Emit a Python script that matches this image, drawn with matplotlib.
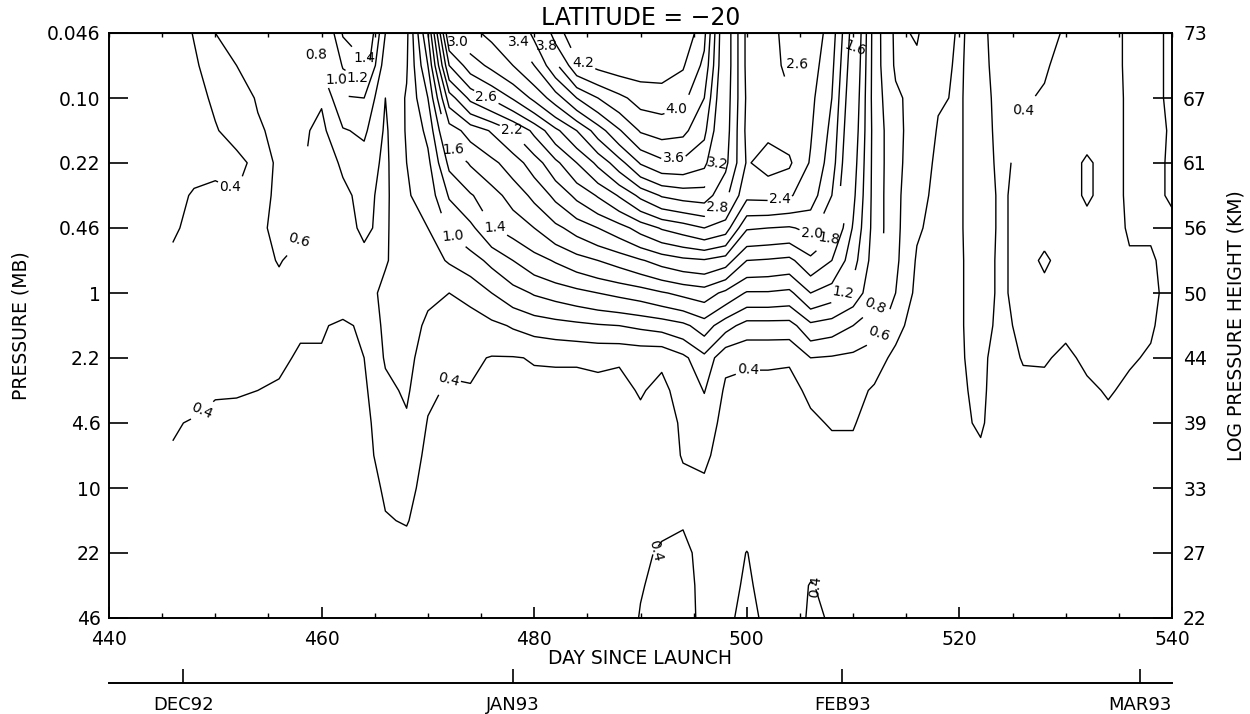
import numpy as np
import matplotlib
matplotlib.use("Agg")
import matplotlib.pyplot as plt

plt.rcParams["font.family"] = ["DejaVu Sans"]

# grid: every second day, UARS pressure levels (0.046 mb first)
DAYS = np.arange(446, 541, 2)
PRESSURE = [0.0464, 0.0681, 0.1, 0.147, 0.215, 0.316, 0.464, 0.681, 1.0, 1.47,
            2.15, 3.16, 4.64, 6.81, 10.0, 14.7, 21.5, 31.6, 46.4]

# amplitude: one vertical profile per day (top -> bottom)
PROFILES = [
    [.30, .31, .33, .34, .35, .37, .38, .43, .44, .44, .43, .42, .41, .39, .38, .36, .34, .32, .31],  # 446
    [.41, .37, .36, .37, .37, .41, .44, .48, .50, .48, .46, .44, .39, .36, .34, .33, .31, .30, .30],  # 448
    [.60, .50, .42, .39, .38, .42, .48, .52, .52, .48, .45, .41, .37, .34, .33, .32, .31, .30, .30],  # 450
    [.72, .60, .50, .45, .36, .41, .50, .53, .52, .47, .44, .41, .36, .33, .32, .31, .30, .30, .30],  # 452
    [.72, .68, .62, .57, .44, .50, .56, .55, .52, .46, .43, .40, .36, .33, .32, .31, .30, .30, .30],  # 454
    [.70, .68, .70, .66, .66, .66, .65, .61, .55, .46, .43, .38, .35, .33, .32, .31, .30, .30, .30],  # 456
    [.75, .72, .70, .64, .62, .62, .62, .55, .50, .42, .38, .35, .33, .32, .31, .30, .30, .30, .30],  # 458
    [.90, .80, .62, .55, .53, .53, .54, .52, .48, .41, .39, .35, .33, .32, .31, .30, .30, .30, .30],  # 460
    [1.42, 1.22, .98, .78, .62, .57, .56, .55, .47, .38, .36, .34, .33, .32, .31, .30, .30, .30, .30],  # 462
    [1.52, 1.36, 1.00, .84, .70, .64, .62, .57, .50, .42, .40, .37, .35, .35, .33, .32, .30, .30, .30],  # 464
    [.80, .68, .60, .57, .56, .56, .57, .58, .66, .65, .62, .55, .50, .46, .42, .39, .33, .31, .30],  # 466
    [.75, .78, .82, .82, .80, .78, .75, .72, .72, .70, .68, .63, .57, .50, .45, .41, .34, .31, .30],  # 468
    [1.60, 1.40, 1.20, 1.05, .95, .88, .80, .72, .64, .56, .47, .43, .39, .36, .34, .32, .31, .30, .30],  # 470
    [3.00, 2.60, 2.10, 1.70, 1.45, 1.22, 1.02, .82, .60, .50, .43, .38, .35, .33, .32, .31, .30, .30, .30],  # 472
    [3.15, 2.90, 2.45, 1.88, 1.62, 1.38, 1.15, .92, .65, .52, .43, .39, .35, .33, .32, .31, .30, .30, .30],  # 474
    [3.25, 3.05, 2.62, 2.02, 1.75, 1.52, 1.38, 1.05, .80, .55, .39, .36, .34, .33, .32, .31, .30, .30, .30],  # 476
    [3.38, 3.20, 2.82, 2.20, 1.90, 1.68, 1.48, 1.20, .92, .62, .39, .36, .34, .33, .32, .31, .30, .30, .30],  # 478
    [3.65, 3.40, 3.05, 2.45, 2.10, 1.85, 1.60, 1.32, 1.02, .68, .41, .36, .34, .33, .32, .31, .30, .30, .30],  # 480
    [4.10, 3.75, 3.30, 2.75, 2.35, 2.05, 1.75, 1.42, 1.08, .72, .41, .37, .34, .33, .32, .31, .30, .30, .30],  # 482
    [4.35, 4.15, 3.60, 3.00, 2.60, 2.25, 1.88, 1.52, 1.14, .75, .41, .37, .34, .33, .32, .31, .30, .30, .30],  # 484
    [4.42, 4.25, 3.80, 3.30, 2.85, 2.42, 2.00, 1.60, 1.20, .78, .42, .37, .34, .33, .32, .31, .30, .30, .30],  # 486
    [4.48, 4.30, 3.95, 3.58, 3.12, 2.62, 2.12, 1.68, 1.25, .80, .41, .37, .34, .33, .32, .31, .30, .30, .30],  # 488
    [4.50, 4.30, 4.08, 3.82, 3.42, 2.85, 2.28, 1.78, 1.30, .84, .43, .41, .37, .34, .33, .33, .37, .39, .41],  # 490
    [4.48, 4.30, 4.10, 3.88, 3.55, 3.02, 2.42, 1.88, 1.38, .88, .42, .37, .34, .33, .33, .37, .42, .44, .45],  # 492
    [4.38, 4.22, 4.05, 3.85, 3.55, 3.08, 2.50, 1.95, 1.45, .95, .55, .45, .42, .41, .36, .39, .43, .45, .46],  # 494
    [4.05, 3.95, 3.80, 3.65, 3.45, 3.10, 2.60, 1.98, 1.50, 1.10, .75, .61, .48, .43, .37, .35, .36, .36, .36],  # 496
    [3.15, 3.15, 3.12, 3.10, 3.05, 2.85, 2.50, 1.90, 1.35, .88, .44, .37, .35, .33, .32, .31, .31, .33, .37],  # 498
    [2.55, 2.55, 2.57, 2.55, 2.58, 2.45, 2.02, 1.60, 1.18, .72, .42, .36, .34, .33, .32, .32, .405, .43, .44],  # 500
    [2.50, 2.52, 2.55, 2.56, 2.68, 2.46, 2.00, 1.58, 1.18, .72, .42, .36, .34, .33, .32, .31, .31, .33, .37],  # 502
    [2.70, 2.65, 2.58, 2.52, 2.63, 2.42, 1.98, 1.55, 1.15, .72, .41, .37, .34, .32, .31, .30, .30, .31, .33],  # 504
    [2.55, 2.50, 2.45, 2.42, 2.38, 2.30, 2.05, 1.75, 1.40, .95, .60, .42, .38, .35, .33, .31, .33, .41, .42],  # 506
    [2.30, 2.25, 2.20, 2.15, 2.10, 2.00, 1.85, 1.60, 1.30, .90, .58, .46, .41, .36, .33, .31, .31, .36, .39],  # 508
    [1.70, 1.65, 1.60, 1.55, 1.50, 1.45, 1.38, 1.28, 1.12, .80, .55, .45, .41, .36, .33, .31, .30, .30, .30],  # 510
    [.90, .90, .90, .92, .92, .92, .92, .90, .86, .70, .47, .38, .34, .32, .31, .30, .30, .30, .30],  # 512
    [.56, .57, .64, .66, .66, .65, .65, .64, .60, .45, .36, .33, .31, .30, .30, .30, .30, .30, .30],  # 514
    [.62, .56, .52, .50, .48, .45, .42, .38, .35, .33, .32, .31, .30, .30, .30, .30, .30, .30, .30],  # 516
    [.44, .42, .41, .39, .37, .36, .35, .34, .33, .32, .32, .31, .30, .30, .30, .30, .30, .30, .30],  # 518
    [.39, .39, .39, .39, .39, .39, .39, .39, .39, .39, .39, .38, .37, .34, .32, .30, .30, .30, .30],  # 520
    [.43, .44, .45, .45, .45, .45, .45, .44, .44, .44, .43, .43, .42, .37, .33, .30, .30, .30, .30],  # 522
    [.34, .34, .35, .36, .37, .38, .38, .38, .38, .37, .34, .32, .31, .30, .30, .30, .30, .30, .30],  # 524
    [.35, .36, .39, .42, .44, .45, .45, .45, .45, .43, .41, .36, .33, .31, .31, .30, .30, .30, .30],  # 526
    [.37, .39, .41, .43, .45, .46, .44, .38, .44, .44, .41, .37, .33, .31, .31, .30, .30, .30, .30],  # 528
    [.41, .43, .45, .46, .46, .46, .46, .45, .44, .42, .38, .36, .34, .31, .31, .30, .30, .30, .30],  # 530
    [.44, .45, .46, .45, .38, .38, .45, .45, .44, .43, .42, .38, .34, .31, .31, .30, .30, .30, .30],  # 532
    [.44, .44, .45, .45, .45, .45, .44, .44, .44, .43, .42, .41, .37, .33, .31, .30, .30, .30, .30],  # 534
    [.38, .38, .38, .38, .38, .38, .39, .41, .43, .42, .41, .38, .34, .31, .31, .30, .30, .30, .30],  # 536
    [.37, .37, .37, .37, .38, .38, .39, .41, .42, .41, .39, .36, .33, .31, .31, .30, .30, .30, .30],  # 538
    [.42, .42, .42, .41, .41, .41, .38, .37, .37, .36, .35, .33, .32, .31, .31, .30, .30, .30, .30],  # 540
]

LEVELS = [0.4, 0.6, 0.8, 1.0, 1.2, 1.4, 1.6, 1.8, 2.0, 2.2, 2.4, 2.6, 2.8,
          3.0, 3.2, 3.4, 3.6, 3.8, 4.0, 4.2]

P_TICKS = [0.0464, 0.1, 0.215, 0.464, 1.0, 2.15, 4.64, 10.0, 21.5, 46.4]
P_LABELS = ["0.046", "0.10", "0.22", "0.46", "1", "2.2", "4.6", "10", "22", "46"]
Z_LABELS = ["73", "67", "61", "56", "50", "44", "39", "33", "27", "22"]

MONTH_DAYS = [447, 478, 509, 537]
MONTH_LABELS = ["DEC92", "JAN93", "FEB93", "MAR93"]

# where the contour labels sit: level -> (day, pressure)
LABEL_SPOTS = {
    0.4: [(451.4, 0.26), (448.9, 4.3), (471.8, 2.5), (500.1, 1.98),
          (491.8, 21.0), (506.9, 32.0), (526.0, 0.17)],
    0.6: [(457.9, 0.575), (512.4, 1.6)],
    0.8: [(459.5, 0.069), (512.1, 1.26)],
    1.0: [(461.4, 0.081), (472.4, 0.53)],
    1.2: [(463.4, 0.078), (509.1, 1.08)],
    1.4: [(464.0, 0.062), (476.3, 0.464)],
    1.6: [(472.4, 0.19), (510.2, 0.06)],
    1.8: [(507.7, 0.51)],
    2.0: [(506.1, 0.53)],
    2.2: [(477.9, 0.149)],
    2.4: [(503.1, 0.35)],
    2.6: [(475.5, 0.086), (504.7, 0.058)],
    2.8: [(497.2, 0.436)],
    3.0: [(472.8, 0.07)],
    3.2: [(497.2, 0.267)],
    3.4: [(478.6, 0.068)],
    3.6: [(493.1, 0.215)],
    3.8: [(481.2, 0.068)],
    4.0: [(493.4, 0.115)],
    4.2: [(484.6, 0.064)],
}

fig = plt.figure(figsize=(12.5, 7.14), dpi=100)
ax = fig.add_axes([0.0872, 0.1345, 0.8504, 0.8193])

amp = np.array(PROFILES).T
for lev in LEVELS:
    cs = ax.contour(DAYS, PRESSURE, amp, levels=[lev], colors="black", linewidths=1.0)
    spots = LABEL_SPOTS.get(lev)
    if spots and len(cs.allsegs[0]) > 0:
        cs.clabel(manual=spots, fmt="%.1f", fontsize=10, inline=True, inline_spacing=2)

ax.set_yscale("log")
ax.set_ylim(46.4, 0.0464)
ax.set_xlim(440, 540)
ax.set_yticks(P_TICKS)
ax.set_yticklabels(P_LABELS)
ax.yaxis.set_minor_locator(plt.NullLocator())
ax.set_xticks(np.arange(440, 541, 20))
ax.set_xticks(np.arange(440, 541, 5), minor=True)
ax.tick_params(axis="y", direction="in", length=14, width=1.2, labelsize=13.5, pad=6)
ax.tick_params(axis="x", which="major", direction="in", length=8, width=1.2,
               labelsize=13.5, pad=9)
ax.tick_params(axis="x", which="minor", direction="in", length=3.5, width=1.0)
for sp in ax.spines.values():
    sp.set_linewidth(1.4)

top = ax.secondary_xaxis("top")
top.set_xticks(np.arange(440, 541, 5))
top.set_xticklabels([])
top.tick_params(direction="in", length=3, width=1.0)

ax.set_xlabel("DAY SINCE LAUNCH", fontsize=13.5)
ax.xaxis.set_label_coords(0.5, -0.053)
ax.set_ylabel("PRESSURE (MB)", fontsize=13.5)
ax.yaxis.set_label_coords(-0.074, 0.5)
ax.set_title("LATITUDE = \u221220", fontsize=17, pad=6)

right = ax.twinx()
right.set_yscale("log")
right.set_ylim(46.4, 0.0464)
right.set_yticks(P_TICKS)
right.set_yticklabels(Z_LABELS)
right.yaxis.set_minor_locator(plt.NullLocator())
right.tick_params(axis="y", direction="in", length=14, width=1.2, labelsize=13.5, pad=8)
right.set_ylabel("LOG PRESSURE HEIGHT (KM)", fontsize=13.5)
right.yaxis.set_label_coords(1.051, 0.5)
for sp in right.spines.values():
    sp.set_visible(False)

# calendar axis under the day axis
mon = fig.add_axes([0.0872, 0.0433, 0.8504, 0.0001])
mon.set_xlim(440, 540)
mon.set_yticks([])
for name in ("left", "right", "top"):
    mon.spines[name].set_visible(False)
mon.spines["bottom"].set_linewidth(1.4)
mon.set_xticks(MONTH_DAYS)
mon.set_xticklabels(MONTH_LABELS)
mon.tick_params(axis="x", direction="in", length=10, width=1.2, labelsize=13, pad=9)

fig.savefig("out.png", dpi=100)
